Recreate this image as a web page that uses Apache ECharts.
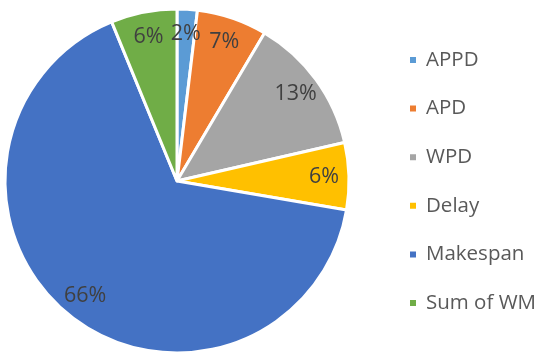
<!DOCTYPE html>
<html><head><meta charset="utf-8">
<script src="https://cdn.jsdelivr.net/npm/echarts@6/dist/echarts.min.js"></script>
<style>html,body{margin:0;padding:0;background:#fff}#c{width:550px;height:359px}</style>
</head><body><div id="c"></div>
<script>
const categories = ['APPD', 'APD', 'WPD', 'Delay', 'Makespan', 'Sum of WM'];
const values = [1.9, 6.6, 12.9, 6.3, 66.1, 6.2];
const colors = ['#5B9BD5', '#ED7D31', '#A5A5A5', '#FFC000', '#4472C4', '#70AD47'];

const data = categories.map((n, i) => ({ name: n, value: values[i] }));
const font = '"Open Sans", sans-serif';
const chart = echarts.init(document.getElementById('c'));
chart.setOption({
  animation: false,
  color: colors,
  legend: {
    orient: 'vertical', left: 403, top: 44,
    itemWidth: 8, itemHeight: 8, itemGap: 26.6, icon: 'rect',
    textStyle: { fontFamily: font, fontSize: 20.5, color: '#595959', lineHeight: 22, padding: [0,0,0,4] },
    data: categories
  },
  series: [{
    type: 'pie', center: [177, 181], radius: [0, 172], startAngle: 90, clockwise: true,
    itemStyle: { borderColor: '#fff', borderWidth: 3 },
    label: { show: false }, labelLine: { show: false },
    data: data
  }, {
    type: 'pie', center: [177, 181], radius: [116, 172], startAngle: 90, clockwise: true,
    silent: true,
    itemStyle: { color: 'rgba(0,0,0,0)', borderWidth: 0 },
    label: {
      show: true, position: 'inside', fontFamily: font, fontSize: 21.5, color: '#404040',
      formatter: p => Math.round(p.percent) + '%'
    },
    labelLine: { show: false },
    data: data
  }]
});
</script></body></html>
